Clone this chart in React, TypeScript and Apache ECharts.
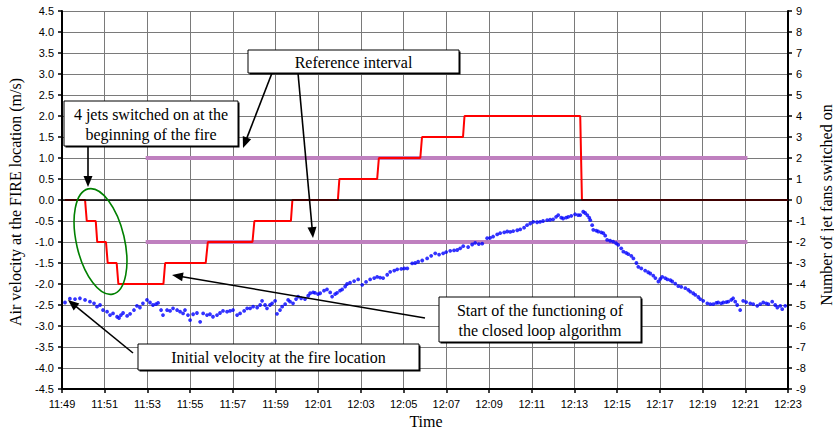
import React, { useEffect, useRef } from "react";
import * as echarts from "echarts";

// Time is given in minutes after 11:49
const xTickLabels = [
  "11:49", "11:51", "11:53", "11:55", "11:57", "11:59", "12:01", "12:03", "12:05",
  "12:07", "12:09", "12:11", "12:13", "12:15", "12:17", "12:19", "12:21", "12:23",
];

// Air velocity at the fire location (m/s): [minutes after 11:49, value]
const airVelocity: [number, number][] = [
  [0.14, -2.44], [0.37, -2.35], [0.61, -2.36], [0.84, -2.34], [1.08, -2.38], [1.31, -2.42], [1.5, -2.46],
  [1.64, -2.54], [1.78, -2.5], [1.92, -2.62], [2.11, -2.66], [2.25, -2.74], [2.39, -2.7], [2.58, -2.78],
  [2.67, -2.81], [2.76, -2.74], [2.86, -2.69], [3.05, -2.76], [3.19, -2.71], [3.37, -2.62], [3.51, -2.52],
  [3.65, -2.56], [3.79, -2.46], [3.98, -2.38], [4.12, -2.44], [4.26, -2.5], [4.4, -2.48], [4.5, -2.45],
  [4.64, -2.62], [4.73, -2.74], [4.92, -2.62], [5.06, -2.64], [5.2, -2.58], [5.39, -2.62], [5.53, -2.66],
  [5.67, -2.7], [5.76, -2.62], [5.9, -2.74], [6.0, -2.86], [6.14, -2.72], [6.32, -2.69], [6.47, -2.9],
  [6.61, -2.7], [6.79, -2.74], [6.93, -2.72], [7.07, -2.78], [7.26, -2.74], [7.4, -2.69], [7.54, -2.64],
  [7.73, -2.66], [7.87, -2.64], [8.01, -2.62], [8.2, -2.74], [8.34, -2.7], [8.53, -2.64], [8.67, -2.58],
  [8.81, -2.58], [8.95, -2.54], [9.14, -2.56], [9.28, -2.5], [9.37, -2.4], [9.51, -2.5], [9.6, -2.58],
  [9.74, -2.5], [9.84, -2.46], [9.98, -2.4], [10.07, -2.71], [10.21, -2.62], [10.31, -2.54], [10.45, -2.48],
  [10.59, -2.38], [10.68, -2.42], [10.82, -2.46], [10.96, -2.36], [11.06, -2.3], [11.2, -2.34], [11.38, -2.36],
  [11.53, -2.28], [11.62, -2.22], [11.76, -2.2], [11.85, -2.21], [11.99, -2.24], [12.09, -2.22], [12.27, -2.16],
  [12.41, -2.13], [12.56, -2.2], [12.65, -2.3], [12.79, -2.24], [12.88, -2.21], [13.02, -2.16], [13.12, -2.13],
  [13.26, -2.06], [13.35, -2.0], [13.49, -1.97], [13.68, -1.93], [13.87, -1.89], [14.06, -2.02], [14.24, -1.95],
  [14.43, -1.89], [14.62, -1.86], [14.76, -1.83], [14.9, -1.85], [15.04, -1.86], [15.23, -1.78], [15.37, -1.71],
  [15.56, -1.68], [15.7, -1.65], [15.89, -1.64], [16.03, -1.63], [16.17, -1.63], [16.4, -1.51], [16.54, -1.5],
  [16.68, -1.47], [16.87, -1.44], [17.1, -1.39], [17.29, -1.33], [17.48, -1.27], [17.66, -1.3], [17.85, -1.27],
  [17.99, -1.24], [18.18, -1.21], [18.36, -1.2], [18.51, -1.19], [18.65, -1.15], [18.79, -1.1], [19.02, -1.12],
  [19.21, -1.06], [19.35, -1.02], [19.52, -1.05], [19.68, -1.04], [19.91, -0.91], [20.05, -0.9], [20.19, -0.87],
  [20.38, -0.82], [20.52, -0.79], [20.71, -0.77], [20.85, -0.75], [20.99, -0.76], [21.13, -0.74], [21.32, -0.72],
  [21.46, -0.7], [21.64, -0.66], [21.78, -0.6], [21.93, -0.56], [22.07, -0.52], [22.25, -0.53], [22.39, -0.52],
  [22.53, -0.5], [22.72, -0.48], [22.86, -0.47], [23.0, -0.46], [23.14, -0.4], [23.24, -0.36], [23.38, -0.42],
  [23.47, -0.44], [23.61, -0.42], [23.71, -0.4], [23.85, -0.38], [24.03, -0.34], [24.17, -0.36], [24.27, -0.36],
  [24.41, -0.28], [24.5, -0.31], [24.6, -0.36], [24.69, -0.42], [24.74, -0.48], [24.83, -0.6], [24.88, -0.71],
  [25.02, -0.73], [25.11, -0.75], [25.25, -0.77], [25.35, -0.79], [25.44, -0.85], [25.53, -0.95], [25.67, -0.97],
  [25.81, -0.99], [25.95, -1.03], [26.05, -1.07], [26.19, -1.15], [26.29, -1.23], [26.42, -1.26], [26.52, -1.29],
  [26.66, -1.33], [26.76, -1.39], [26.9, -1.5], [26.99, -1.59], [27.13, -1.63], [27.31, -1.68], [27.45, -1.72],
  [27.55, -1.75], [27.69, -1.8], [27.79, -1.86], [27.93, -1.94], [28.02, -1.88], [28.11, -1.83], [28.25, -1.86],
  [28.35, -1.89], [28.49, -1.91], [28.58, -1.94], [28.72, -1.99], [28.86, -2.05], [29.0, -2.07], [29.19, -2.1],
  [29.33, -2.14], [29.42, -2.18], [29.56, -2.22], [29.66, -2.26], [29.8, -2.31], [29.89, -2.36], [30.03, -2.4],
  [30.22, -2.46], [30.36, -2.48], [30.5, -2.48], [30.64, -2.45], [30.73, -2.44], [30.87, -2.46], [30.97, -2.44],
  [31.11, -2.43], [31.2, -2.42], [31.34, -2.38], [31.43, -2.34], [31.53, -2.42], [31.62, -2.5], [31.76, -2.62],
  [31.9, -2.4], [32.04, -2.43], [32.23, -2.46], [32.37, -2.48], [32.56, -2.52], [32.7, -2.48], [32.84, -2.44],
  [32.98, -2.46], [33.08, -2.48], [33.26, -2.42], [33.4, -2.5], [33.5, -2.56], [33.64, -2.52], [33.73, -2.6],
  [33.87, -2.52],
];

// Number of jet fans switched on (right axis)
const jetTimes = [
  0.14, 1.08, 1.16, 1.58, 1.65, 2.06, 2.14, 2.56, 2.64, 4.75, 4.83, 6.73, 6.83, 8.92,
  9.01, 10.72, 10.79, 12.92, 12.99, 14.76, 14.84, 16.78, 16.86, 18.78, 18.85, 24.27, 24.35, 34,
];
const jetFans = [
  0, 0, -1, -1, -2, -2, -3, -3, -4, -4, -3, -3, -2, -2,
  -1, -1, 0, 0, 1, 1, 2, 2, 3, 3, 4, 4, 0, 0,
];

// Reference interval (m/s)
const refStart = 3.92;
const refEnd = 32.1;
const refLevels = [1, -1];

const SERIF = '"Liberation Serif", "Times New Roman", serif';
const SANS = '"Liberation Sans", Arial, sans-serif';

function arrow(x1: number, y1: number, x2: number, y2: number) {
  const dx = x2 - x1, dy = y2 - y1;
  const len = Math.hypot(dx, dy);
  const ux = dx / len, uy = dy / len;
  const L = 11, W = 4.5;
  const bx = x2 - ux * L, by = y2 - uy * L;
  return [
    {
      type: "line", silent: true, z: 100,
      shape: { x1, y1, x2: bx + ux * 2, y2: by + uy * 2 },
      style: { stroke: "#000", lineWidth: 1.6 },
    },
    {
      type: "polygon", silent: true, z: 100,
      shape: { points: [[x2, y2], [bx - uy * W, by + ux * W], [bx + uy * W, by - ux * W]] },
      style: { fill: "#000" },
    },
  ];
}

function box(x: number, y: number, w: number, h: number, text: string) {
  return [
    { type: "rect", silent: true, z: 100, shape: { x: x + 1.5, y: y + 1.5, width: w, height: h }, style: { fill: "#000" } },
    { type: "rect", silent: true, z: 101, shape: { x, y, width: w, height: h }, style: { fill: "#fff", stroke: "#000", lineWidth: 1 } },
    {
      type: "text", silent: true, z: 102, x: x + w / 2, y: y + h / 2 + 0.5,
      style: {
        text, fill: "#000", fontSize: 16, fontFamily: SERIF, lineHeight: 20,
        align: "center", verticalAlign: "middle", textAlign: "center", textVerticalAlign: "middle",
      },
    },
  ];
}

function titleText(text: string, x: number, y: number, rotation: number) {
  return {
    type: "text", silent: true, z: 102, x, y, rotation,
    style: {
      text, fill: "#000", fontSize: 16, fontFamily: SERIF,
      align: "center", verticalAlign: "middle", textAlign: "center", textVerticalAlign: "middle",
    },
  };
}

export default function App() {
  const ref = useRef<HTMLDivElement>(null);
  useEffect(() => {
    if (!ref.current) return;
    const chart = echarts.init(ref.current, undefined, { renderer: "svg" });
    const gridColor = "#7a7a7a";
    const option: any = {
      animation: false,
      backgroundColor: "#fff",
      grid: { left: 62, right: 46, top: 11, bottom: 42 },
      xAxis: {
        type: "value", min: 0, max: 34, interval: 2,
        axisLine: { onZero: false, lineStyle: { color: "#000", width: 2 } },
        axisTick: { show: true, length: 4, lineStyle: { color: "#000", width: 1.5 } },
        axisLabel: {
          color: "#000", fontSize: 11, fontFamily: SANS, margin: 9,
          formatter: (v: number) => xTickLabels[Math.round(v / 2)] ?? "",
        },
        splitLine: { show: true, lineStyle: { color: gridColor, width: 1 } },
      },
      yAxis: [
        {
          type: "value", min: -4.5, max: 4.5, interval: 0.5, position: "left",
          axisLine: { show: true, onZero: false, lineStyle: { color: "#000", width: 2 } },
          axisTick: { show: true, length: 4, lineStyle: { color: "#000", width: 1.5 } },
          axisLabel: { color: "#000", fontSize: 11, fontFamily: SANS, margin: 8, formatter: (v: number) => v.toFixed(1) },
          splitLine: { show: true, lineStyle: { color: gridColor, width: 1 } },
        },
        {
          type: "value", min: -9, max: 9, interval: 1, position: "right",
          axisLine: { show: true, onZero: false, lineStyle: { color: "#000", width: 2 } },
          axisTick: { show: true, length: 4, lineStyle: { color: "#000", width: 1.5 } },
          axisLabel: { color: "#000", fontSize: 11, fontFamily: SANS, margin: 8 },
          splitLine: { show: false },
        },
      ],
      series: [
        ...refLevels.map((lv) => ({
          type: "line", yAxisIndex: 0, z: 2, symbol: "none", silent: true,
          data: [[refStart, lv], [refEnd, lv]],
          lineStyle: { color: "#bf80bf", width: 4 },
        })),
        {
          type: "line", yAxisIndex: 1, z: 3, symbol: "none", silent: true,
          data: jetTimes.map((t, i) => [t, jetFans[i]]),
          lineStyle: { color: "#ff0000", width: 2 },
          markLine: {
            silent: true, symbol: "none", label: { show: false },
            lineStyle: { color: "#000", width: 1.5, type: "solid" },
            data: [{ yAxis: 0 }],
          },
        },
        {
          type: "scatter", yAxisIndex: 0, z: 4, silent: true,
          symbol: "circle", symbolSize: 3.8,
          itemStyle: { color: "#0000ff" },
          data: airVelocity,
        },
      ],
      graphic: {
        elements: [
          titleText("Air velocity at the FIRE location (m/s)", 15, 202, Math.PI / 2),
          titleText("Number of jet fans switched on", 826, 205, Math.PI / 2),
          titleText("Time", 426, 421, 0),
          {
            type: "ellipse", silent: true, z: 90, x: 100.5, y: 241.5, rotation: 0.23,
            shape: { cx: 0, cy: 0, rx: 24, ry: 54 },
            style: { fill: "none", stroke: "#008000", lineWidth: 1.6 },
          },
          ...arrow(272, 73, 243, 148),
          ...arrow(298, 73, 313, 238),
          ...arrow(88, 146, 88, 187),
          ...arrow(425, 318, 172, 275),
          ...arrow(133, 353, 68, 300),
          ...box(248, 50, 211, 23, "Reference interval"),
          ...box(64, 101, 174, 45, "4 jets switched on at the\nbeginning of the fire"),
          ...box(439, 297, 202, 45, "Start of the functioning of\nthe closed loop algorithm"),
          ...box(138, 344, 281, 26, "Initial velocity at the fire location"),
        ],
      },
    };
    chart.setOption(option);
    return () => chart.dispose();
  }, []);
  return (
    <div
      ref={ref}
      style={{ position: "absolute", left: 0, top: 0, width: 834, height: 431, background: "#fff" }}
    />
  );
}
